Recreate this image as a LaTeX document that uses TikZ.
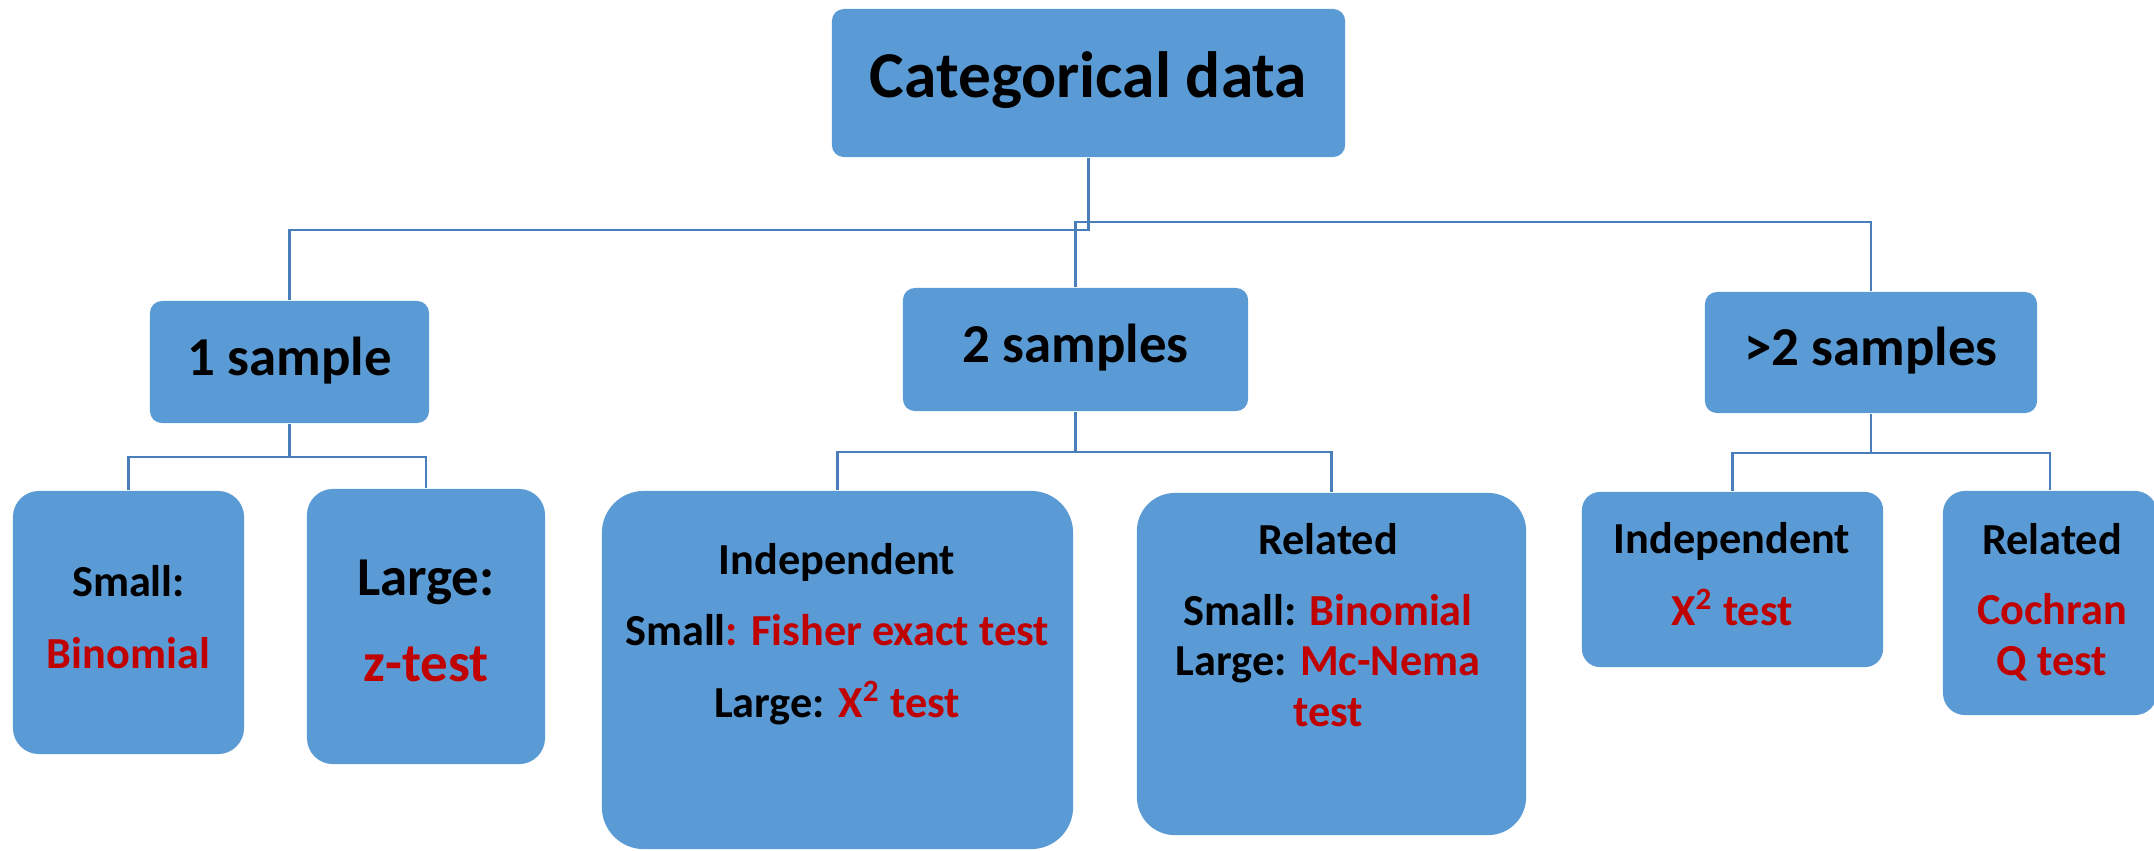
\documentclass[tikz,border=0pt]{standalone}
\usepackage{fontspec}
\setmainfont{Carlito}
\definecolor{boxblue}{HTML}{5B9BD5}
\definecolor{linkblue}{HTML}{4A7EBB}
\definecolor{testred}{HTML}{C00000}
\newcommand{\tst}[1]{\textcolor{testred}{#1}}

\begin{document}
\begin{tikzpicture}[x=0.01cm,y=-0.01cm,
    box/.style={fill=boxblue,rounded corners=#1,inner sep=0pt},
    box/.default=1.2mm,
    head/.style={font=\fontsize{15.6}{18}\selectfont\bfseries,anchor=base},
    leaf/.style={font=\fontsize{12.6}{14.3}\selectfont\bfseries,anchor=base,align=center},
    link/.style={draw=linkblue,line width=0.6pt}]

      \useasboundingbox (0,0) rectangle (2154,850);

      % boxes
      \node[box,minimum width=5.13cm,minimum height=1.48cm] (cat) at (1088.5,83) {};

      \node[box,minimum width=2.79cm,minimum height=1.22cm] (s1) at (289.5,362)   {};
      \node[box,minimum width=3.45cm,minimum height=1.23cm] (s2) at (1075.5,349.5) {};
      \node[box,minimum width=3.32cm,minimum height=1.21cm] (s3) at (1871,352.5)  {};

      \node[box=2.6mm,minimum width=2.31cm,minimum height=2.63cm] (s1a) at (128.5,622.5) {};
      \node[box=2.6mm,minimum width=2.38cm,minimum height=2.75cm] (s1b) at (426,626.5)   {};
      \node[box=4.2mm,minimum width=4.71cm,minimum height=3.58cm] (s2a) at (837.5,670)   {};
      \node[box=3.8mm,minimum width=3.89cm,minimum height=3.42cm] (s2b) at (1331.5,664)  {};
      \node[box=1.8mm,minimum width=3.01cm,minimum height=1.75cm] (s3a) at (1732.5,579.5) {};
      \node[box=2.2mm,minimum width=2.14cm,minimum height=2.24cm] (s3b) at (2050,603)    {};

      % texts (multi-line ones sit on their last baseline)
      \node[head,font=\fontsize{18.6}{22}\selectfont\bfseries] (cat-t) at (1088.5,97) {Categorical data};

      \node[head] (s1-t) at (289.5,375)  {1 sample};
      \node[head] (s2-t) at (1075.5,362) {2 samples};
      \node[head] (s3-t) at (1871,365)   {>2 samples};

      \node[leaf] (s1a-t) at (128.5,668) {Small:\\[6pt]\tst{Binomial}};
      \node[leaf,font=\fontsize{15.6}{17.5}\selectfont\bfseries] (s1b-t) at (426,681) {Large:\\[6.7pt]\tst{z-test}};
      \node[leaf] (s2a-t) at (837,717)  {Independent\\[6pt]Small\tst{: Fisher exact test}\\[6pt]Large: \tst{X\textsuperscript{2} test}};
      \node[leaf] (s2b-t) at (1328,726) {Related\\[6pt]Small: \tst{Binomial}\\Large: \tst{Mc-Nema}\\\tst{test}};
      \node[leaf] (s3a-t) at (1732,625) {Independent\\[6pt]\tst{X\textsuperscript{2} test}};
      \node[leaf] (s3b-t) at (2052,675) {Related\\[5.6pt]\tst{Cochran}\\\tst{Q test}};

      % links
      \draw[link] (cat.south) -- ++(0,72) -| (s1.north);
      \draw[link] (s2.north) -- ++(0,-65) -| (s3.north);

      \draw[link] (s1.south) -- ++(0,33) -| (s1a.north);
      \draw[link] (s1.south) -- ++(0,33) -| (s1b.north);
      \draw[link] (s2.south) -- ++(0,40) -| (s2a.north);
      \draw[link] (s2.south) -- ++(0,40) -| (s2b.north);
      \draw[link] (s3.south) -- ++(0,39) -| (s3a.north);
      \draw[link] (s3.south) -- ++(0,39) -| (s3b.north);

\end{tikzpicture}
\end{document}
